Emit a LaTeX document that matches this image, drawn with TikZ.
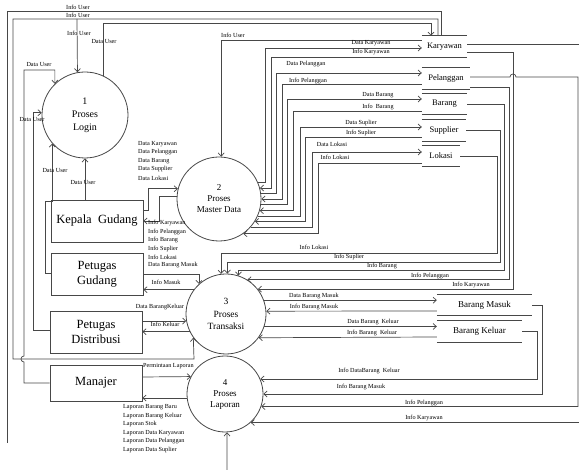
\documentclass[tikz,border=0pt]{standalone}
\usepackage{fontspec}
\setmainfont{Liberation Serif}
\usetikzlibrary{arrows.meta}
\begin{document}
\begin{tikzpicture}[x=1pt,y=-1pt,
  line/.style={draw=black!72, line width=0.7pt},
  flow/.style={line, -{Straight Barb[length=3.2pt,width=6pt]}},
  proc/.style={circle, draw=black!72, line width=0.8pt, inner sep=0pt, align=center, font=\fontsize{9}{12}\selectfont},
  ent/.style={rectangle, draw=black!72, line width=0.8pt, inner sep=0pt, align=center, font=\fontsize{12.5}{15}\selectfont},
  store/.style={inner sep=0pt, font=\fontsize{8.5}{10}\selectfont},
  lbl/.style={inner sep=0pt, font=\fontsize{6.2}{8.6}\selectfont},
  lblL/.style={lbl, anchor=west, align=left},
]
\useasboundingbox (0,0) rectangle (579,470);
\clip (0,0) rectangle (579,470);

% processes
\node[proc, minimum size=86pt, font=\fontsize{10}{13}\selectfont] (c1) at (85,115) {1\\Proses\\Login};
\node[proc, minimum size=84pt, font=\fontsize{9}{11}\selectfont] (c2) at (219,199) {2\\Proses\\Master Data};
\node[proc, minimum size=80pt, font=\fontsize{9.5}{12.5}\selectfont] (c3) at (226,314) {3\\Proses\\Transaksi};
\node[proc, minimum size=76pt, font=\fontsize{9}{11}\selectfont] (c4) at (225,394) {4\\Proses\\Laporan};

% external entities
\node[ent, minimum width=92pt, minimum height=42pt] (kg) at (97,221) {Kepala~ Gudang};
\node[ent, minimum width=92pt, minimum height=42pt] (pg) at (97,274) {Petugas\\Gudang};
\node[ent, minimum width=92pt, minimum height=42pt] (pd) at (96,332) {Petugas\\Distribusi};
\node[ent, minimum width=92pt, minimum height=36pt] (mj) at (96,383) {Manajer};

% data stores
\node[store, minimum width=45pt, minimum height=21pt] (ks) at (444.5,46.5) {Karyawan};
\node[store, minimum width=48pt, minimum height=21pt] (ps) at (446,78.5) {Pelanggan};
\node[store, minimum width=45pt, minimum height=20pt] (bs) at (444.5,104) {Barang};
\node[store, minimum width=44pt, minimum height=21pt] (ss) at (444,130.5) {Supplier};
\node[store, minimum width=38pt, minimum height=20pt] (ls) at (441,156) {Lokasi};
\node[store, minimum width=95pt, minimum height=20pt, font=\fontsize{9}{10}\selectfont] (bm) at (484.5,305) {Barang Masuk};
\node[store, minimum width=85pt, minimum height=21pt, font=\fontsize{9}{10}\selectfont] (bk) at (479.5,331.5) {Barang Keluar};
\foreach \s in {ks,ps,bs,ss,ls,bm,bk} {
  \draw[line] (\s.north west) -- (\s.north east);
  \draw[line] (\s.south west) -- (\s.south east);
}

% ---- Info User / Data User (top and left) ----
\coordinate (iuEnd) at (7,443);
\draw[line] (ks.north -| 441,0) |- (7,11) -- (iuEnd);
\draw[flow] (ks.north -| 438,0) |- (13,19) |- (194,359) -- (c3.216.9);
\draw[flow] (77,19) -- (c1.100.7);
\draw[flow] (c1.65.3) |- (431,23) -- (ks.north -| 431,0);
\node[lbl] at (78,7) {Info User};
\node[lbl] at (78,15) {Info User};
\node[lbl] at (79,33) {Info User};
\node[lbl] at (104,42) {Data User};

\draw[flow] (mj.west) -- (24,383) -- (24,362)
  arc[start angle=270, end angle=90, radius=3pt] -- (24,70) -| (c1.134.3);
\draw[flow] (pd.west |- 0,330) -- (33,330) |- (c1.177.3);
\draw[flow] (pg.west |- 0,273) -- (45,273) -- (45,201) -| (c1.221.9);
\draw[flow] (c1.south |- kg.north) -- (c1.south);
\node[lbl] at (39,65) {Data User};
\node[lbl] at (32,120) {Data User};
\node[lbl] at (55,171) {Data User};
\node[lbl] at (83,183) {Data User};

% ---- Kepala Gudang <-> Master Data ----
\draw[flow] (kg.east |- 0,210) -- (148,210) |- (c2.166.2);
\draw[flow] (c2.177.3) -| (159,221) -- (kg.east |- 0,221);
\node[lblL] at (138,144) {Data Karyawan};
\node[lblL] at (138,152.5) {Data Pelanggan};
\node[lblL] at (138,161) {Data Barang};
\node[lblL] at (138,169.5) {Data Supplier};
\node[lblL] at (138,178) {Data Lokasi};
\node[lblL] at (148,223) {Info Karyawan};
\node[lblL] at (148,231.5) {Info Pelanggan};
\node[lblL] at (148,240) {Info Barang};
\node[lblL] at (148,248.5) {Info Suplier};
\node[lblL] at (148,257) {Info Lokasi};
\node[lblL] at (148,265.5) {Data Barang Masuk};

% ---- Master Data <-> stores ----
\draw[flow] (ks.west |- 0,40) -| (c2.87.3);
\node[lbl] at (233,35) {Info User};
\draw[flow] (c2.23.9) -| (265,48) -- (ks.west |- 0,48);
\draw[flow] (ks.west |- 0,57) -- (271,57) |- (c2.15.2);
\draw[flow] (c2.8.2) -| (276,73) -- (ps.west |- 0,73);
\draw[flow] (ps.west |- 0,84) -- (282,84) |- (c2.0);
\draw[flow] (c2.353.2) -| (287,99) -- (bs.west |- 0,99);
\draw[flow] (bs.west |- 0,111) -- (293,111) |- (c2.344.8);
\draw[flow] (c2.336.1) -| (300,127) -- (ss.west |- 0,127);
\draw[flow] (ss.west |- 0,137) -- (305,137) |- (c2.328.4);
\draw[flow] (c2.318.2) -| (312,152) -- (ls.west |- 0,152);
\draw[flow] (ls.west |- 0,163) -- (318,163) |- (c2.305.9);
\node[lbl] at (371,43) {Data Karyawan};
\node[lbl] at (371,52) {Info Karyawan};
\node[lbl] at (306,64) {Data Pelanggan};
\node[lbl] at (308,80.5) {Info Pelanggan};
\node[lbl] at (378,95.5) {Data Barang};
\node[lbl] at (378,107) {Info~ Barang};
\node[lbl] at (361,123) {Data Suplier};
\node[lbl] at (361,133) {Info Suplier};
\node[lbl] at (332,144) {Data Lokasi};
\node[lbl] at (335,157) {Info Lokasi};

% ---- stores -> Transaksi ----
\draw[flow] (ls.east) -- (497,156) -- (497,253) -| (c3.97.2);
\draw[flow] (ss.east) -- (500,130.5) -- (500,262) -| (c3.88.6);
\draw[flow] (bs.east) -- (504,104) -- (504,270) -| (c3.72.6);
\draw[flow] (ps.east |- 0,87) -- (509,87) |- (c3.58.2);
\draw[flow] (ks.east |- 0,52) -- (513,52) |- (c3.38.7);
\node[lbl] at (314,247.5) {Info Lokasi};
\node[lbl] at (349,257) {Info Suplier};
\node[lbl] at (382,266) {Info Barang};
\node[lbl] at (430,276) {Info Pelanggan};
\node[lbl] at (471,284.5) {Info Karyawan};

% ---- Petugas Gudang / Distribusi <-> Transaksi ----
\draw[flow] (pg.east |- 0,274) -| (c3.132.5);
\draw[flow] (c3.143.1) -- (pg.east |- c3.143.1);
\draw[flow] (pd.east |- c3.190.1) -- (c3.190.1);
\draw[flow] (c3.206.7) -- (pd.east |- c3.206.7);
\node[lbl] at (166,282) {Info Masuk};
\node[lbl] at (160,307) {Data BarangKeluar};
\node[lbl] at (165,324) {Info Keluar};

% ---- Transaksi <-> Barang Masuk / Keluar ----
\draw[flow] (c3.20.5) -- (bm.west |- c3.20.5);
\draw[flow] (bm.west |- 0,311) -- (c3.4.3);
\draw[flow] (c3.342.5) -- (bk.west |- c3.342.5);
\draw[flow] (bk.west |- 0,337) -- (c3.324.9);
\node[lbl] at (314,296) {Data Barang Masuk};
\node[lbl] at (314,307) {Info Barang Masuk};
\node[lbl] at (373,322.5) {Data Barang~ Keluar};
\node[lbl] at (372,333) {Info Barang~ Keluar};

% ---- Laporan ----
\draw[flow] (bk.east) -- (537,331.5) |- (c4.23.2);
\draw[flow] (bm.east) -- (542,305) |- (c4.0);
\draw[flow] (ps.east |- 0,77) -- (510,77)
  arc[start angle=180, end angle=0, radius=3pt] -- (578,77) |- (c4.341.6);
\draw[flow] (ks.east |- 0,44) -- (600,44) |- (c4.312.5);
\node[lbl] at (369,371) {Info DataBarang~ Keluar};
\node[lbl] at (361,387) {Info Barang Masuk};
\node[lbl] at (424,403) {Info Pelanggan};
\node[lbl] at (424,418) {Info Karyawan};

\coordinate (botIn) at (227,475);
\draw[flow] (botIn) -- (c4.273);

\draw[flow] (mj.east |- 0,377) -- (c4.153.4);
\draw[flow] (c4.186) -- (mj.east |- c4.186);
\node[lblL] at (143,366) {Permintaan Laporan};
\node[lblL] at (123,407) {Laporan Barang Baru};
\node[lblL] at (123,415.6) {Laporan Barang Keluar};
\node[lblL] at (123,424.2) {Laporan Stok};
\node[lblL] at (123,432.8) {Laporan Data Karyawan};
\node[lblL] at (123,441.4) {Laporan Data Pelanggan};
\node[lblL] at (123,450) {Laporan Data Suplier};
\end{tikzpicture}
\end{document}
